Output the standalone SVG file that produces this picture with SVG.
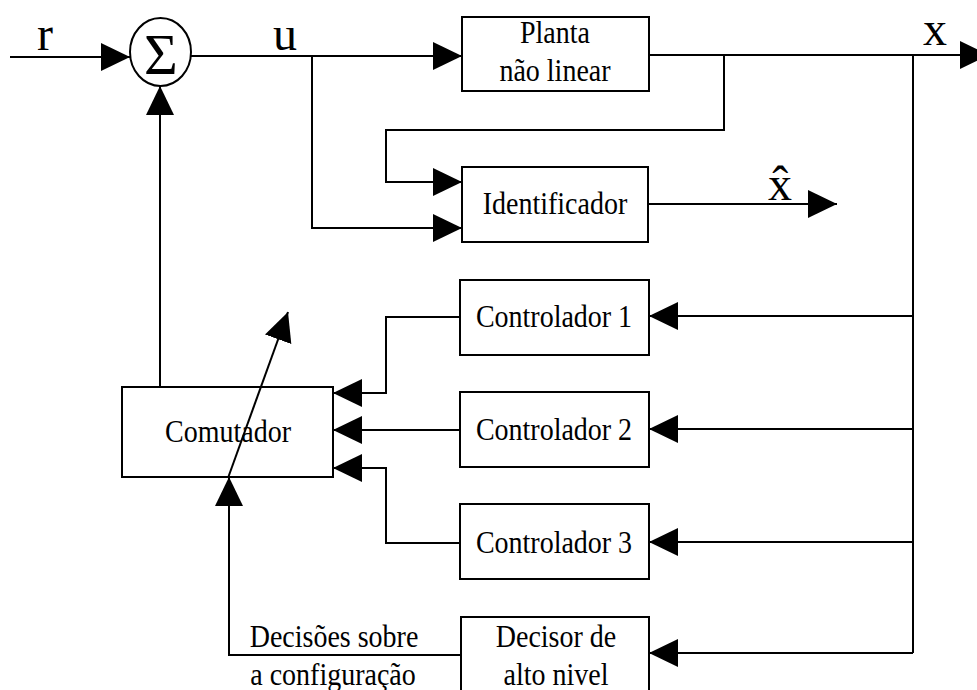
<svg xmlns="http://www.w3.org/2000/svg" width="977" height="690" viewBox="0 0 977 690">
<defs>
<marker id="ah" markerUnits="userSpaceOnUse" markerWidth="30" markerHeight="30" refX="29" refY="14" orient="auto">
<path d="M0,0 L29,14 L0,28 z" fill="#000"/>
</marker>
<style>
.box{fill:#fff;stroke:#000;stroke-width:2}
.ln{fill:none;stroke:#000;stroke-width:2}
.ar{fill:none;stroke:#000;stroke-width:2;marker-end:url(#ah)}
.t{font-family:"Liberation Serif","Times New Roman",serif;font-size:28px;fill:#000;text-anchor:middle}
.lb{font-family:"Liberation Serif","Times New Roman",serif;font-size:48px;fill:#000;text-anchor:middle}
</style>
</defs>
<rect width="977" height="690" fill="#fff"/>
<g id="sum">
<ellipse cx="160.5" cy="52" rx="30.5" ry="34" class="box"/>
<text x="161" y="74" style="font-family:'Liberation Serif','Times New Roman',serif;font-size:58px;text-anchor:middle">Σ</text>
</g>
<g id="planta">
<rect class="box" x="462" y="17" width="187" height="74"/>
<text class="t" transform="translate(555,43) scale(1,1.13)">Planta</text>
<text class="t" transform="translate(555,81) scale(1,1.13)">não linear</text>
</g>
<g id="identificador">
<rect class="box" x="462" y="167" width="186" height="75"/>
<text class="t" transform="translate(555,214) scale(1,1.13)">Identificador</text>
</g>
<g id="controlador1">
<rect class="box" x="460" y="280" width="189" height="75"/>
<text class="t" transform="translate(554,327) scale(1,1.13)">Controlador 1</text>
</g>
<g id="controlador2">
<rect class="box" x="460" y="392" width="189" height="75"/>
<text class="t" transform="translate(554,440) scale(1,1.13)">Controlador 2</text>
</g>
<g id="controlador3">
<rect class="box" x="460" y="504" width="189" height="75"/>
<text class="t" transform="translate(554,553) scale(1,1.13)">Controlador 3</text>
</g>
<g id="decisor">
<rect class="box" x="461" y="617" width="188" height="80"/>
<text class="t" transform="translate(556,647) scale(1,1.13)">Decisor de</text>
<text class="t" transform="translate(556,685) scale(1,1.13)">alto nivel</text>
</g>
<g id="comutador">
<rect class="box" x="122" y="387" width="211" height="90"/>
<text class="t" transform="translate(228,442) scale(1,1.13)">Comutador</text>
</g>
<g id="connectors">
<path class="ar" d="M10,57 H130"/>
<path class="ar" d="M191,56 H462"/>
<path class="ar" d="M312,56 V228 H462"/>
<path class="ar" d="M724,55 V130 H386 V182 H462"/>
<path class="ar" d="M649,55 H989"/>
<path class="ar" d="M648,204 H837"/>
<path class="ln" d="M913,55 V653"/>
<path class="ar" d="M913,316 H649"/>
<path class="ar" d="M913,429 H649"/>
<path class="ar" d="M913,542 H649"/>
<path class="ar" d="M913,653 H649"/>
<path class="ar" d="M460,317 H386 V393 H333"/>
<path class="ar" d="M460,430 H333"/>
<path class="ar" d="M460,543 H386 V468 H333"/>
<path class="ar" d="M160,387 V86"/>
<path class="ar" d="M461,655 H229 V477"/>
<path class="ar" d="M228,478 L288,312"/>
</g>
<g id="labels">
<text class="lb" x="45" y="50">r</text>
<text class="lb" x="285" y="50">u</text>
<text class="lb" x="935" y="45">x</text>
<text class="lb" x="780" y="200">x̂</text>
</g>
<g id="decision-label">
<text class="t" transform="translate(334,647) scale(1,1.13)">Decisões sobre</text>
<text class="t" transform="translate(333,685) scale(1,1.13)">a configuração</text>
</g>
</svg>
